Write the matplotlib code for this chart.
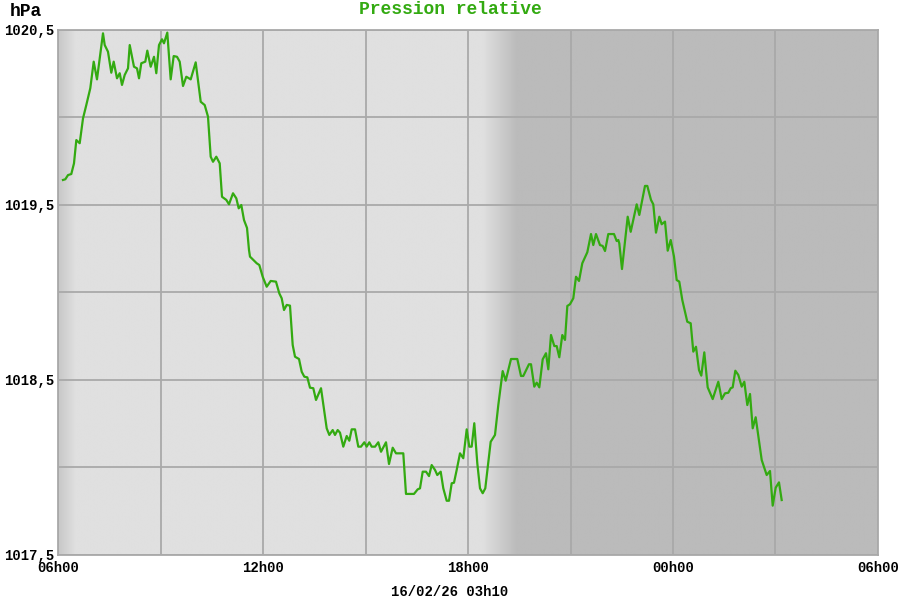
import numpy as np
import matplotlib
matplotlib.use("Agg")
import matplotlib.pyplot as plt

# Time in hours since 00h00 of the first day (values > 24 are the next day)
hours = [
    6.146, 6.214, 6.293, 6.389, 6.468, 6.536, 6.635, 6.732, 6.828, 6.945,
    7.045, 7.141, 7.317, 7.367, 7.463, 7.560, 7.630, 7.727, 7.806, 7.873,
    7.952, 8.049, 8.099, 8.224, 8.312, 8.371, 8.438, 8.555, 8.614, 8.713,
    8.810, 8.877, 8.956, 9.044, 9.102, 9.199, 9.298, 9.386, 9.483, 9.562,
    9.659, 9.755, 9.884, 10.030, 10.177, 10.294, 10.390, 10.469, 10.537, 10.633,
    10.733, 10.800, 10.926, 11.005, 11.122, 11.219, 11.289, 11.365, 11.444, 11.532,
    11.590, 11.619, 11.816, 11.892, 11.991, 12.108, 12.225, 12.380, 12.477, 12.547,
    12.615, 12.694, 12.790, 12.869, 12.937, 13.054, 13.133, 13.209, 13.297, 13.376,
    13.472, 13.551, 13.698, 13.864, 13.941, 14.040, 14.107, 14.186, 14.254, 14.350,
    14.450, 14.526, 14.596, 14.693, 14.789, 14.868, 14.965, 15.035, 15.111, 15.181,
    15.278, 15.375, 15.454, 15.600, 15.688, 15.796, 15.893, 16.106, 16.185, 16.419,
    16.527, 16.595, 16.674, 16.771, 16.859, 16.937, 17.034, 17.101, 17.201, 17.277,
    17.376, 17.444, 17.523, 17.590, 17.669, 17.766, 17.862, 17.962, 18.038, 18.108,
    18.184, 18.272, 18.351, 18.430, 18.506, 18.664, 18.790, 18.887, 19.015, 19.103,
    19.259, 19.443, 19.551, 19.618, 19.785, 19.844, 19.940, 20.011, 20.087, 20.186,
    20.283, 20.350, 20.429, 20.526, 20.596, 20.672, 20.760, 20.839, 20.907, 20.985,
    21.082, 21.161, 21.249, 21.345, 21.492, 21.600, 21.667, 21.746, 21.863, 21.942,
    22.010, 22.106, 22.273, 22.352, 22.399, 22.428, 22.507, 22.674, 22.762, 22.937,
    23.014, 23.180, 23.248, 23.356, 23.423, 23.502, 23.599, 23.669, 23.766, 23.845,
    23.933, 24.029, 24.108, 24.184, 24.272, 24.418, 24.518, 24.594, 24.673, 24.761,
    24.828, 24.916, 25.015, 25.162, 25.326, 25.425, 25.522, 25.618, 25.689, 25.747,
    25.824, 25.911, 26.011, 26.087, 26.175, 26.254, 26.333, 26.420, 26.596, 26.742,
    26.839, 26.918, 27.006, 27.102, 27.181,
]

pressure = [
    1019.643, 1019.647, 1019.671, 1019.677, 1019.738, 1019.871, 1019.853, 1019.995, 1020.071, 1020.167,
    1020.319, 1020.218, 1020.481, 1020.414, 1020.376, 1020.256, 1020.319, 1020.224, 1020.253, 1020.186,
    1020.243, 1020.281, 1020.414, 1020.290, 1020.281, 1020.224, 1020.310, 1020.319, 1020.382, 1020.290,
    1020.347, 1020.253, 1020.414, 1020.447, 1020.424, 1020.485, 1020.218, 1020.351, 1020.347, 1020.319,
    1020.180, 1020.233, 1020.218, 1020.315, 1020.090, 1020.071, 1020.005, 1019.776, 1019.747, 1019.776,
    1019.738, 1019.547, 1019.529, 1019.504, 1019.567, 1019.538, 1019.481, 1019.500, 1019.414, 1019.369,
    1019.243, 1019.205, 1019.167, 1019.157, 1019.090, 1019.033, 1019.066, 1019.062, 1018.995, 1018.967,
    1018.900, 1018.929, 1018.925, 1018.700, 1018.633, 1018.620, 1018.547, 1018.519, 1018.515, 1018.456,
    1018.453, 1018.386, 1018.453, 1018.224, 1018.186, 1018.214, 1018.186, 1018.214, 1018.199, 1018.119,
    1018.180, 1018.153, 1018.218, 1018.218, 1018.119, 1018.119, 1018.144, 1018.119, 1018.144, 1018.119,
    1018.119, 1018.144, 1018.090, 1018.144, 1018.020, 1018.113, 1018.081, 1018.081, 1017.849, 1017.849,
    1017.875, 1017.881, 1017.976, 1017.976, 1017.951, 1018.014, 1017.986, 1017.957, 1017.976, 1017.881,
    1017.810, 1017.810, 1017.910, 1017.913, 1017.986, 1018.081, 1018.053, 1018.218, 1018.119, 1018.119,
    1018.253, 1018.024, 1017.881, 1017.853, 1017.881, 1018.147, 1018.186, 1018.357, 1018.551, 1018.496,
    1018.620, 1018.620, 1018.523, 1018.523, 1018.590, 1018.590, 1018.462, 1018.485, 1018.458, 1018.618,
    1018.653, 1018.561, 1018.757, 1018.694, 1018.694, 1018.630, 1018.757, 1018.729, 1018.923, 1018.933,
    1018.967, 1019.090, 1019.066, 1019.167, 1019.230, 1019.334, 1019.271, 1019.334, 1019.271, 1019.266,
    1019.237, 1019.334, 1019.334, 1019.294, 1019.300, 1019.281, 1019.134, 1019.433, 1019.347, 1019.504,
    1019.443, 1019.609, 1019.609, 1019.529, 1019.504, 1019.342, 1019.433, 1019.390, 1019.405, 1019.239,
    1019.300, 1019.205, 1019.071, 1019.062, 1018.957, 1018.833, 1018.824, 1018.662, 1018.690, 1018.557,
    1018.525, 1018.658, 1018.458, 1018.391, 1018.490, 1018.391, 1018.424, 1018.427, 1018.453, 1018.458,
    1018.553, 1018.529, 1018.462, 1018.490, 1018.357, 1018.420, 1018.224, 1018.287, 1018.043, 1017.957,
    1017.980, 1017.782, 1017.885, 1017.915, 1017.814,
]

x_major = [6, 12, 18, 24, 30]
x_major_labels = ["06h00", "12h00", "18h00", "00h00", "06h00"]
x_minor = [9, 15, 21, 27]
y_major = [1017.5, 1018.5, 1019.5, 1020.5]
y_major_labels = ["1017,5", "1018,5", "1019,5", "1020,5"]
y_minor = [1018.0, 1019.0, 1020.0]

title_text = "Pression relative"
unit_text = "hPa"
stamp_text = "16/02/26 03h10"

FONT = "Liberation Mono"
GREEN = "#33aa11"
GRID = "#a9a9a9"

fig = plt.figure(figsize=(9, 6), dpi=100)
ax = fig.add_axes([58 / 900, 45 / 600, 820 / 900, 525 / 600])

# background shading (day / night gradient)
xs = np.linspace(6, 30, 2000)
light, dark, edge = 0.875, 0.733, 0.78
vals = np.full_like(xs, light)
m = xs < 6.5
vals[m] = edge + (light - edge) * (xs[m] - 6) / 0.5
m = (xs >= 18.45) & (xs < 19.43)
vals[m] = light + (dark - light) * (xs[m] - 18.45) / (19.43 - 18.45)
vals[xs >= 19.43] = dark
ax.imshow(np.tile(vals, (2, 1)), cmap="gray", vmin=0, vmax=1,
          extent=[6, 30, 1017.5, 1020.5], aspect="auto", zorder=0,
          interpolation="bilinear")

ax.plot(hours, pressure, color=GREEN, lw=1.6, zorder=3)

ax.set_xlim(6, 30)
ax.set_ylim(1017.5, 1020.5)
ax.set_xticks(x_major)
ax.set_xticklabels(x_major_labels)
ax.set_xticks(x_minor, minor=True)
ax.set_yticks(y_major)
ax.set_yticklabels(y_major_labels)
ax.set_yticks(y_minor, minor=True)
ax.grid(which="both", color=GRID, lw=1.3, zorder=1)
ax.tick_params(which="both", length=0)
ax.tick_params(axis="y", pad=3)
ax.tick_params(axis="x", pad=4)
for lab in ax.get_xticklabels() + ax.get_yticklabels():
    lab.set_fontfamily(FONT)
    lab.set_fontweight("bold")
    lab.set_fontsize(10)
for s in ax.spines.values():
    s.set_color(GRID)
    s.set_linewidth(1.3)

fig.text(0.5, 1 - 10 / 600, title_text, ha="center", va="center",
         color=GREEN, fontsize=13, fontweight="bold", family=FONT)
fig.text(10 / 900, 1 - 11 / 600, unit_text, ha="left", va="center",
         color="black", fontsize=13, fontweight="bold", family=FONT)
fig.text(450 / 900, 1 - 592 / 600, stamp_text, ha="center", va="center",
         color="black", fontsize=10, fontweight="bold", family=FONT)

fig.savefig("out.png", dpi=100)
